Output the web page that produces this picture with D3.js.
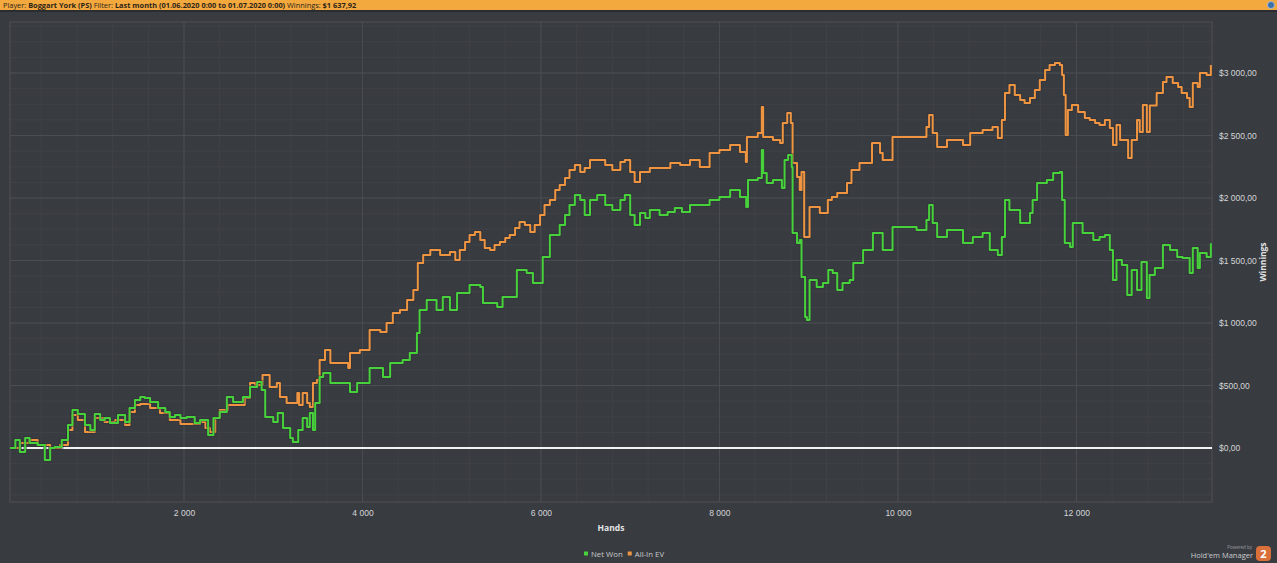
<!DOCTYPE html>
<html>
<head>
<meta charset="utf-8">
<script src="https://cdn.jsdelivr.net/npm/d3@7"></script>
<style>
  html, body { margin: 0; padding: 0; background: #383b40; }
  svg { display: block; font-family: "Open Sans", "DejaVu Sans", sans-serif; }
</style>
</head>
<body>
<svg id="chart" width="1277" height="563"></svg>
<script>
// Net Won series (hands, $)
const netWonHands = [50,110,160,220,270,360,440,500,550,630,700,750,810,890,950,1000,1060,1110,1170,1260,1340,1390,1450,1510,1560,1620,1710,1790,1840,1900,1960,2030,2120,2180,2270,2330,2400,2480,2550,2660,2740,2820,2870,2910,3000,3050,3110,3190,3220,3280,3330,3380,3410,3445,3470,3520,3560,3640,3780,3860,3940,4080,4230,4310,4450,4530,4610,4640,4720,4830,4900,4980,5060,5200,5320,5350,5510,5570,5730,5840,5910,6020,6100,6210,6270,6320,6380,6440,6490,6550,6630,6720,6800,6890,6940,7000,7050,7110,7170,7220,7330,7420,7500,7580,7670,7760,7890,8000,8120,8230,8300,8320,8430,8475,8490,8530,8600,8700,8730,8770,8810,8820,8870,8900,8920,8960,8980,9010,9090,9160,9220,9270,9320,9380,9460,9500,9610,9720,9830,9940,10100,10210,10320,10350,10390,10440,10550,10660,10730,10840,10950,11030,11120,11165,11200,11250,11370,11480,11510,11560,11670,11740,11815,11840,11870,11930,11960,12070,12190,12260,12320,12375,12410,12450,12510,12570,12620,12680,12730,12790,12820,12880,12970,13050,13130,13190,13270,13305,13360,13384,13460,13507];
const netWonValues = [0,64,-32,80,40,24,-96,0,8,64,184,304,272,184,144,272,224,240,200,264,208,320,384,408,400,368,320,288,248,264,240,248,200,224,104,240,288,408,368,408,488,528,464,248,208,280,160,80,48,144,240,168,280,144,360,568,600,520,520,448,520,640,568,680,704,760,920,1104,1184,1104,1208,1104,1240,1304,1288,1160,1128,1208,1424,1400,1320,1528,1704,1784,1864,1944,2024,1984,1864,1984,2024,1944,1904,1984,2024,1864,1784,1880,1840,1904,1864,1888,1920,1888,1944,1944,1984,2008,2064,2008,1928,2144,2160,2384,2200,2120,2144,2080,2304,2344,2248,1720,1640,1664,1368,1048,1024,1344,1288,1320,1424,1400,1264,1320,1344,1480,1584,1720,1584,1768,1768,1744,1824,1944,1800,1688,1744,1744,1640,1688,1720,1584,1544,1688,1984,1904,1800,1880,1984,2120,2144,2200,2208,1984,1640,1608,1800,1720,1664,1688,1704,1584,1344,1504,1464,1224,1424,1264,1488,1200,1384,1440,1624,1584,1528,1520,1400,1600,1440,1560,1528,1638];

// All-In EV series (hands, $)
const evHands = [50,160,270,360,500,610,700,750,810,890,950,1000,1110,1230,1340,1390,1450,1510,1620,1730,1840,1960,2070,2180,2240,2290,2350,2400,2490,2570,2680,2740,2800,2880,2960,3040,3075,3150,3270,3290,3330,3380,3410,3445,3490,3520,3580,3640,3750,3840,3860,3970,4080,4200,4270,4340,4420,4500,4570,4620,4680,4760,4870,4980,5040,5090,5150,5200,5260,5320,5370,5430,5480,5540,5600,5650,5710,5760,5820,5880,5930,5990,6040,6100,6160,6210,6270,6320,6380,6440,6490,6550,6630,6720,6800,6890,6940,7000,7050,7110,7220,7330,7450,7560,7670,7780,7890,8000,8120,8230,8296,8308,8430,8475,8490,8600,8680,8710,8760,8800,8820,8870,8900,8920,8950,8980,9010,9125,9215,9260,9320,9430,9480,9570,9710,9800,9830,9940,10100,10210,10320,10350,10390,10440,10550,10660,10730,10810,10950,11060,11120,11165,11200,11250,11310,11370,11420,11480,11535,11590,11650,11700,11760,11815,11840,11860,11880,11905,11950,12020,12095,12150,12210,12260,12320,12375,12410,12450,12490,12540,12580,12620,12680,12710,12745,12790,12823,12900,12970,13010,13080,13140,13180,13240,13270,13305,13360,13384,13460,13507];
const evValues = [0,40,64,24,0,24,144,264,224,128,128,240,208,224,184,288,344,352,320,280,224,192,192,208,160,128,240,304,344,344,400,520,504,584,488,520,408,360,440,344,440,360,328,520,544,704,784,680,680,640,760,784,944,928,1000,1080,1104,1184,1264,1480,1544,1584,1544,1568,1504,1584,1648,1704,1728,1664,1600,1584,1624,1648,1680,1704,1760,1808,1784,1728,1784,1864,1944,1984,2064,2104,2160,2224,2264,2208,2240,2304,2304,2264,2224,2288,2304,2208,2128,2208,2240,2240,2280,2264,2304,2248,2360,2384,2424,2368,2288,2488,2520,2728,2488,2464,2440,2600,2680,2600,2280,2168,2064,2208,1688,1688,1928,1880,1984,2008,2040,2120,2224,2280,2440,2360,2304,2488,2488,2488,2568,2664,2520,2408,2464,2464,2424,2520,2544,2568,2480,2624,2840,2904,2824,2784,2760,2800,2864,2944,3024,3064,3080,3064,2984,2824,2504,2704,2744,2688,2640,2624,2600,2584,2624,2560,2424,2584,2464,2464,2320,2464,2624,2528,2744,2528,2740,2840,2928,2968,2920,2888,2840,2800,2728,2920,2888,3000,2984,3064];

const xTicks = [2000, 4000, 6000, 8000, 10000, 12000];
const yTicks = [0, 500, 1000, 1500, 2000, 2500, 3000];
const seriesNames = ["Net Won", "All-In EV"];
const seriesColors = ["#47d23c", "#ef9542"];

const svg = d3.select("#chart");
const W = 1277, H = 563;
const plot = { left: 10, right: 1212, top: 22, bottom: 502 };

// header bar
svg.append("rect").attr("x", 0).attr("y", 0).attr("width", W).attr("height", 10).attr("fill", "#f4a93f");
svg.append("rect").attr("x", 0).attr("y", 10).attr("width", W).attr("height", 2).attr("fill", "#2a2c30");
const head = svg.append("text").attr("x", 3).attr("y", 7.6).attr("font-size", 7.4).attr("fill", "#2b2418");
[["Player: ", false], ["Boggart York (PS)", true], [" Filter: ", false],
 ["Last month (01.06.2020 0:00 to 01.07.2020 0:00)", true], [" Winnings: ", false], ["$1 637,92", true]]
  .forEach(([t, b]) => head.append("tspan").attr("font-weight", b ? "bold" : "normal").attr("xml:space", "preserve").text(t));
svg.append("circle").attr("cx", 1271).attr("cy", 5).attr("r", 3.5).attr("fill", "#3d6fa8").attr("stroke", "#a9c4e0").attr("stroke-width", 0.8);

const x = d3.scaleLinear().domain([50, 13520]).range([plot.left, plot.right]);
const y = d3.scaleLinear().domain([-432, 3408]).range([plot.bottom, plot.top]);

// minor grid
const g = svg.append("g");
g.selectAll(".vminor").data(d3.range(400, 13520, 400)).join("line")
  .attr("x1", d => x(d)).attr("x2", d => x(d)).attr("y1", plot.top).attr("y2", plot.bottom)
  .attr("stroke", "#3f4247").attr("stroke-width", 1);
g.selectAll(".hminor").data(d3.range(-375, 3408, 125)).join("line")
  .attr("y1", d => y(d)).attr("y2", d => y(d)).attr("x1", plot.left).attr("x2", plot.right)
  .attr("stroke", "#3f4247").attr("stroke-width", 1);
// major grid
g.selectAll(".vmajor").data(xTicks).join("line")
  .attr("x1", d => x(d)).attr("x2", d => x(d)).attr("y1", plot.top).attr("y2", plot.bottom)
  .attr("stroke", "#4a4d52").attr("stroke-width", 1);
g.selectAll(".hmajor").data(yTicks).join("line")
  .attr("y1", d => y(d)).attr("y2", d => y(d)).attr("x1", plot.left).attr("x2", plot.right)
  .attr("stroke", "#4a4d52").attr("stroke-width", 1);
svg.append("rect").attr("x", plot.left).attr("y", plot.top)
  .attr("width", plot.right - plot.left).attr("height", plot.bottom - plot.top)
  .attr("fill", "none").attr("stroke", "#4e5156").attr("stroke-width", 1);

// axes
const fmtMoney = d => "$" + (d >= 1000 ? Math.floor(d / 1000) + " " + d3.format("03d")(d % 1000) : d) + ",00";
const yAxis = d3.axisRight(y).tickValues(yTicks).tickSize(0).tickPadding(7).tickFormat(fmtMoney);
svg.append("g").attr("transform", `translate(${plot.right},0)`).call(yAxis)
  .call(a => a.select(".domain").remove())
  .selectAll("text").attr("fill", "#d4d6d8").attr("font-size", 8.5);
const xAxis = d3.axisBottom(x).tickValues(xTicks).tickSize(0).tickPadding(8)
  .tickFormat(d => Math.floor(d / 1000) + " " + d3.format("03d")(d % 1000));
svg.append("g").attr("transform", `translate(0,${plot.bottom})`).call(xAxis)
  .call(a => a.select(".domain").remove())
  .selectAll("text").attr("fill", "#d4d6d8").attr("font-size", 8.5);

svg.append("text").attr("x", (plot.left + plot.right) / 2).attr("y", 531).attr("text-anchor", "middle")
  .attr("font-size", 8.5).attr("font-weight", "bold").attr("fill", "#e4e5e6").text("Hands");
svg.append("text").attr("transform", `translate(1266,${(plot.top + plot.bottom) / 2}) rotate(-90)`)
  .attr("text-anchor", "middle").attr("font-size", 8.5).attr("font-weight", "bold").attr("fill", "#e4e5e6").text("Winnings");

// zero line
svg.append("line").attr("x1", plot.left).attr("x2", plot.right).attr("y1", y(0)).attr("y2", y(0))
  .attr("stroke", "#f2f2f2").attr("stroke-width", 2);

// series
const line = d3.line().x(d => x(d[0])).y(d => y(d[1])).curve(d3.curveStepAfter);
const series = [
  d3.zip(evHands, evValues),
  d3.zip(netWonHands, netWonValues)
];
const colorsOrdered = [seriesColors[1], seriesColors[0]];
series.forEach((s, i) => {
  svg.append("path").datum(s).attr("d", line).attr("fill", "none")
    .attr("stroke", "#2d2f33").attr("stroke-opacity", 0.5).attr("stroke-width", 3.6);
  svg.append("path").datum(s).attr("d", line).attr("fill", "none")
    .attr("stroke", colorsOrdered[i]).attr("stroke-width", 2).attr("stroke-linejoin", "round");
});

// legend
const leg = svg.append("g").attr("transform", "translate(584,555)");
let lx = 0;
seriesNames.forEach((n, i) => {
  leg.append("rect").attr("x", lx).attr("y", -3.5).attr("width", 4).attr("height", 4).attr("fill", seriesColors[i]);
  const t = leg.append("text").attr("x", lx + 7).attr("y", 1.5).attr("font-size", 7.8).attr("fill", "#c8cacc").text(n);
  lx += 7 + t.node().getComputedTextLength() + 5;
});

// logo
svg.append("text").attr("x", 1252).attr("y", 549).attr("text-anchor", "end").attr("font-size", 4.5).attr("fill", "#9a9ca0").text("Powered by");
svg.append("text").attr("x", 1253).attr("y", 558).attr("text-anchor", "end").attr("font-size", 7.5).attr("fill", "#c9cbce").text("Hold'em Manager");
svg.append("rect").attr("x", 1256).attr("y", 546).attr("width", 15).attr("height", 15).attr("rx", 4).attr("fill", "#d9703a");
svg.append("text").attr("x", 1263.5).attr("y", 558).attr("text-anchor", "middle").attr("font-size", 11).attr("font-weight", "bold").attr("fill", "#fff").text("2");
</script>
</body>
</html>
